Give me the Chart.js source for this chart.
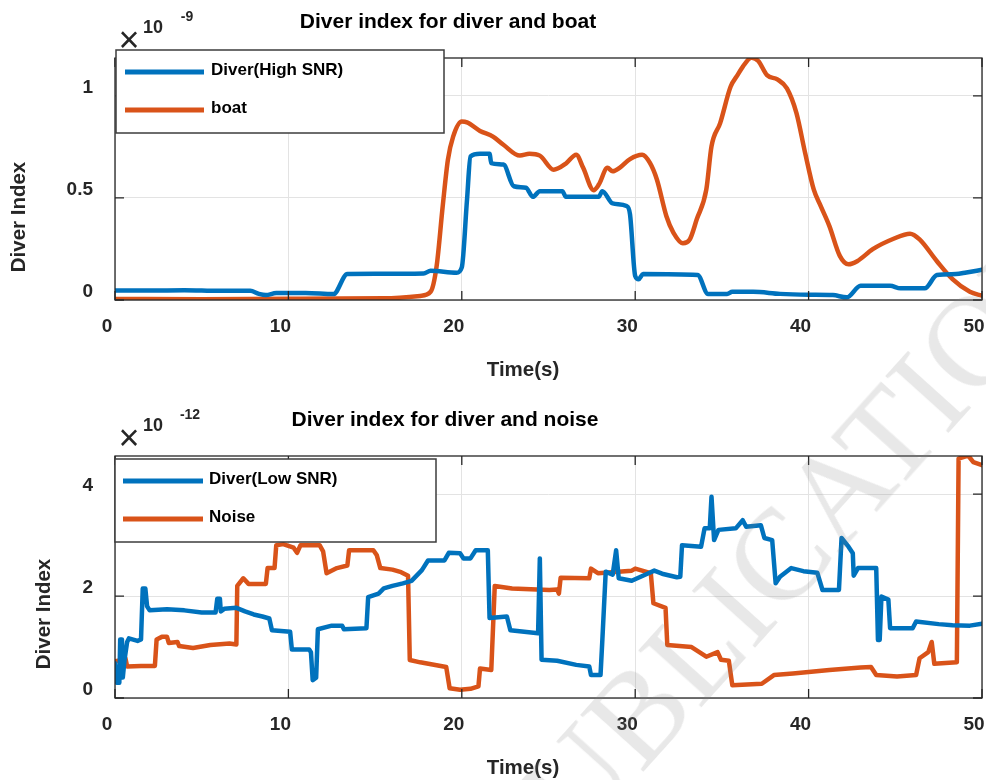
<!DOCTYPE html>
<html lang="en">
<head>
<meta charset="UTF-8">
<title>Diver index</title>
<style>
    body { margin: 0; background: #fff; }
    #page { position: relative; width: 986px; height: 780px; overflow: hidden; }
    .panel { position: absolute; left: 0; width: 986px; height: 390px; }
    #watermark {
        position: absolute; left: 782px; top: 552px;
        transform: translate(-50%, -50%) rotate(-48deg);
        font: 130px "Liberation Serif", serif; line-height: 1;
        color: rgba(128, 128, 128, 0.18); white-space: nowrap;
        pointer-events: none;
    }
</style>
</head>
<body>
<div id="page">
    <div class="panel" style="top:0"><canvas id="boatChart" width="986" height="390"></canvas></div>
    <div class="panel" style="top:390px"><canvas id="noiseChart" width="986" height="390"></canvas></div>
    <div id="watermark">PUBLICATION</div>
</div>

<script src="https://cdn.jsdelivr.net/npm/chart.js@4.4.0/dist/chart.umd.min.js"></script>
<script>
    // axis ticks
    const xTicks = [0, 10, 20, 30, 40, 50];
    const boatYTicks = [0, 0.5, 1];
    const noiseYTicks = [0, 2, 4];

    // top panel (x 1e-9)
    const timeHigh = [0, 2, 4, 6, 7.8, 8.3, 8.7, 9.3, 11, 12.6, 13.4, 15, 17.8, 18.2, 19.7, 20.0, 20.3, 20.5, 21.05, 21.6, 21.7,
        22.4, 23.0, 23.7, 24.1, 24.5, 25.8, 26.0, 27.9, 28.1, 28.7, 29.5, 29.7, 30.0, 30.2, 30.45, 33.6, 34.2, 35.3, 35.6,
        36.8, 38.35, 40, 41.4, 42.2, 43.0, 44.7, 45.3, 46.7, 47.4, 48.5, 49.1, 50];
    const diverHigh = [0.047, 0.046, 0.048, 0.045, 0.045, 0.03, 0.024, 0.034, 0.034, 0.029, 0.127, 0.128, 0.13, 0.143, 0.134, 0.16, 0.49, 0.703, 0.716, 0.716, 0.67,
        0.663, 0.557, 0.55, 0.505, 0.533, 0.533, 0.505, 0.505, 0.533, 0.473, 0.46, 0.42, 0.118, 0.102, 0.127, 0.122, 0.029, 0.029, 0.04,
        0.04, 0.03, 0.026, 0.024, 0.013, 0.07, 0.07, 0.057, 0.057, 0.122, 0.127, 0.135, 0.148];

    const timeBoat = [0, 5, 10, 15.5, 17.6, 18.2, 18.55, 18.9, 19.2, 19.5, 20.0, 20.3, 21.05, 21.8, 22.4, 23.35, 23.9, 24.5, 25.3,
        26.0, 26.6, 27.0, 27.6, 27.9, 28.4, 28.7, 29.1, 29.7, 30.4, 30.85, 31.25, 31.8, 32.2, 32.75, 33.15, 33.55, 34.1, 34.4,
        34.9, 35.5, 35.9, 36.2, 36.7, 37.1, 37.6, 38.2, 38.75, 39.3, 39.8, 40.3, 40.7, 41.2, 41.8, 42.3, 42.8, 43.7, 44.9,
        45.85, 46.4, 47.4, 48.3, 49.3, 50];
    const boat = [0.005, 0.004, 0.006, 0.008, 0.02, 0.04, 0.167, 0.46, 0.687, 0.8, 0.874, 0.87, 0.828, 0.8, 0.76, 0.707, 0.716, 0.707, 0.638,
        0.668, 0.711, 0.647, 0.538, 0.565, 0.647, 0.63, 0.647, 0.69, 0.711, 0.671, 0.59, 0.41, 0.33, 0.278, 0.297, 0.395, 0.54, 0.752,
        0.866, 1.044, 1.101, 1.142, 1.187, 1.17, 1.101, 1.08, 1.036, 0.915, 0.72, 0.54, 0.46, 0.362, 0.216, 0.175, 0.19, 0.249, 0.3,
        0.325, 0.297, 0.19, 0.102, 0.04, 0.021];

    // bottom panel (x 1e-12)
    const timeLow = [0, 0.1, 0.25, 0.3, 0.4, 0.45, 0.55, 0.7, 0.8, 1.3, 1.5, 1.6, 1.75, 1.85, 2.0, 3.0, 4.0, 5.0, 5.8, 5.9, 6.05, 6.1,
        6.3, 7.0, 7.5, 8.0, 8.5, 8.9, 9.05, 10.1, 10.2, 11.2, 11.3, 11.4, 11.6, 11.7, 12.5, 13.1, 13.2, 14.5, 14.6, 15.2, 15.5,
        16.0, 16.6, 17.1, 17.7, 18.05, 19.0, 19.25, 19.9, 20.1, 20.5, 20.8, 21.5, 21.6, 22.6, 22.8, 24.4, 24.5, 24.6, 25.5,
        26.6, 27.35, 27.45, 28.0, 28.1, 28.3, 28.7, 28.9, 29.05, 29.8, 30.7, 31.1, 31.55, 32.4, 32.6, 32.7, 33.8, 34.0, 34.3,
        34.4, 34.55, 34.8, 35.8, 36.2, 36.4, 37.25, 37.45, 37.9, 38.1, 38.35, 39.0, 39.7, 40.5, 40.8, 41.75, 41.9, 42.3, 42.55,
        42.6, 42.85, 43.9, 44.0, 44.1, 44.2, 44.6, 44.7, 46.0, 46.2, 47.5, 48.3, 49.3, 50];
    const diverLow = [0.68, 0.3, 0.3, 1.15, 1.15, 0.4, 0.75, 1.1, 1.17, 1.12, 1.15, 2.15, 2.15, 1.8, 1.72, 1.74, 1.72, 1.68, 1.68, 1.95, 1.95, 1.7,
        1.75, 1.77, 1.7, 1.64, 1.6, 1.56, 1.33, 1.3, 0.95, 0.95, 0.9, 0.35, 0.4, 1.35, 1.42, 1.42, 1.35, 1.37, 1.98, 2.05, 2.15,
        2.2, 2.25, 2.3, 2.51, 2.7, 2.7, 2.85, 2.84, 2.74, 2.74, 2.9, 2.9, 1.57, 1.6, 1.33, 1.27, 2.74, 0.75, 0.73,
        0.65, 0.62, 0.45, 0.45, 1.1, 2.48, 2.42, 2.9, 2.35, 2.3, 2.44, 2.5, 2.44, 2.37, 2.38, 3.0, 2.97, 3.33, 3.33,
        3.95, 3.1, 3.3, 3.33, 3.49, 3.36, 3.39, 3.14, 3.1, 2.25, 2.38, 2.55, 2.49, 2.46, 2.12, 2.12, 3.14, 2.97, 2.84,
        2.4, 2.55, 2.55, 1.14, 1.14, 1.99, 1.93, 1.37, 1.37, 1.5, 1.45, 1.43, 1.42, 1.46];

    const timeNoise = [0, 0.5, 0.6, 0.7, 1.5, 2.3, 2.4, 2.7, 3.0, 3.1, 3.6, 3.7, 4.5, 5.5, 6.6, 7.0, 7.05, 7.4, 7.7, 8.7, 8.8, 9.2, 9.3,
        9.7, 10.3, 10.5, 10.7, 11.8, 12.0, 12.2, 12.8, 13.4, 13.5, 14.9, 15.1, 15.3, 16.0, 16.5, 16.9, 17.0, 17.6, 19.1, 19.3,
        19.9, 20.5, 20.96, 21.05, 21.7, 21.9, 22.9, 25.05, 25.5, 25.6, 25.7, 27.35, 27.45, 27.85, 29.8, 30.0, 30.9, 31.05,
        31.75, 31.85, 33.25, 34.1, 34.75, 34.95, 35.4, 35.6, 37.3, 38.0, 39.1, 41.2, 43.0, 43.6, 43.9, 45.1, 46.2, 46.4,
        46.9, 47.1, 47.25, 48.55, 48.65, 49.2, 49.5, 50];
    const noise = [0.72, 0.75, 0.78, 0.62, 0.63, 0.63, 1.15, 1.2, 1.2, 1.08, 1.1, 1.02, 0.98, 1.04, 1.07, 1.05, 2.2, 2.35, 2.24, 2.24, 2.55, 2.55, 3.0,
        3.02, 2.95, 2.85, 3.0, 3.0, 2.88, 2.45, 2.55, 2.6, 2.9, 2.9, 2.8, 2.55, 2.52, 2.47, 2.4, 0.745, 0.7, 0.61, 0.19,
        0.16, 0.18, 0.23, 0.58, 0.55, 2.2, 2.15, 2.12, 2.13, 2.05, 2.36, 2.35, 2.54, 2.45, 2.5, 2.54, 2.45, 1.86,
        1.77, 1.04, 1.0, 0.81, 0.9, 0.75, 0.73, 0.25, 0.28, 0.45, 0.48, 0.55, 0.6, 0.61, 0.45, 0.42, 0.45, 0.78,
        0.9, 1.1, 0.67, 0.7, 4.7, 4.76, 4.63, 4.57];

    const BLUE = '#0072BD';
    const ORANGE = '#D95319';
    const FONT = '"Liberation Sans", Arial, sans-serif';

    // frame, inward ticks, legend box and the loose MATLAB-style texts
    const decor = {
        id: 'decor',
        afterDraw(chart, args, o) {
            const { ctx, chartArea: a, scales } = chart;
            ctx.save();
            ctx.strokeStyle = '#262626';
            ctx.lineWidth = 1.3;
            ctx.strokeRect(a.left, a.top, a.width, a.height);
            ctx.beginPath();
            scales.x.ticks.forEach(t => {
                const px = scales.x.getPixelForValue(t.value);
                ctx.moveTo(px, a.bottom); ctx.lineTo(px, a.bottom - 9);
                ctx.moveTo(px, a.top); ctx.lineTo(px, a.top + 9);
            });
            scales.y.ticks.forEach(t => {
                const py = scales.y.getPixelForValue(t.value);
                ctx.moveTo(a.left, py); ctx.lineTo(a.left + 9, py);
                ctx.moveTo(a.right, py); ctx.lineTo(a.right - 9, py);
            });
            ctx.stroke();

            // legend
            const L = o.legend;
            ctx.fillStyle = '#fff';
            ctx.fillRect(L.x, L.y, L.w, L.h);
            ctx.strokeStyle = '#3c3c3c';
            ctx.lineWidth = 1.5;
            ctx.strokeRect(L.x, L.y, L.w, L.h);
            ctx.font = 'bold 17px ' + FONT;
            ctx.textBaseline = 'middle';
            ctx.textAlign = 'left';
            chart.data.datasets.forEach((ds, i) => {
                const ly = L.rows[i];
                ctx.strokeStyle = ds.borderColor;
                ctx.lineWidth = 5;
                ctx.beginPath();
                ctx.moveTo(L.lineX[0], ly); ctx.lineTo(L.lineX[1], ly);
                ctx.stroke();
                ctx.fillStyle = '#000';
                ctx.fillText(ds.label, L.textX, ly - 2);
            });

            // title
            ctx.fillStyle = '#000';
            ctx.textAlign = 'center';
            ctx.font = 'bold 21px ' + FONT;
            ctx.fillText(o.title, o.titlePos[0], o.titlePos[1]);

            // axis labels
            ctx.fillStyle = '#262626';
            ctx.font = 'bold 20.5px ' + FONT;
            ctx.fillText('Time(s)', o.xLabelPos[0], o.xLabelPos[1]);
            ctx.save();
            ctx.translate(o.yLabelPos[0], o.yLabelPos[1]);
            ctx.rotate(-Math.PI / 2);
            ctx.fillText('Diver Index', 0, 0);
            ctx.restore();

            // exponent
            const e = o.exp;
            ctx.fillStyle = '#262626';
            ctx.font = '36px ' + FONT;
            ctx.fillText('\u00d7', e.x, e.y);
            ctx.font = 'bold 18px ' + FONT;
            ctx.fillText('10', e.x + 24, e.y - 14);
            ctx.font = 'bold 14px ' + FONT;
            ctx.fillText(e.power, e.x + 58 + (e.power.length - 2) * 3, e.y - 25);
            ctx.restore();
        }
    };

    function makeChart(id, series, yTicks, yMax, xAxisHeight, padTop, deco) {
        const datasets = series.map(s => ({
            label: s.label,
            data: s.t.map((t, i) => ({ x: t, y: s.v[i] })),
            borderColor: s.color,
            borderWidth: 4.5,
            pointRadius: 0,
            tension: s.smooth ? 0.4 : 0,
            cubicInterpolationMode: s.smooth ? 'monotone' : 'default',
            borderJoinStyle: 'round',
            borderCapStyle: 'round'
        }));
        const tickFont = { family: FONT, size: 19, weight: 'bold' };
        return new Chart(document.getElementById(id), {
            type: 'line',
            data: { datasets },
            plugins: [decor],
            options: {
                responsive: false,
                animation: false,
                layout: { padding: { top: padTop, right: 4, left: 0, bottom: 0 } },
                plugins: {
                    legend: { display: false },
                    tooltip: { enabled: false },
                    decor: deco
                },
                scales: {
                    x: {
                        type: 'linear', min: 0, max: 50,
                        afterBuildTicks: s => { s.ticks = xTicks.map(v => ({ value: v })); },
                        afterFit: s => { s.height = xAxisHeight; s.paddingLeft = 0; s.paddingRight = 0; },
                        grid: { color: '#e3e3e3', drawTicks: false },
                        border: { display: false },
                        ticks: { font: tickFont, color: '#262626', padding: 15, labelOffset: -8, maxRotation: 0, callback: v => String(v) }
                    },
                    y: {
                        type: 'linear', min: 0, max: yMax,
                        afterBuildTicks: s => { s.ticks = yTicks.map(v => ({ value: v })); },
                        afterFit: s => { s.width = 115; s.paddingTop = 0; s.paddingBottom = 0; },
                        grid: { color: '#e3e3e3', drawTicks: false },
                        border: { display: false },
                        ticks: { font: tickFont, color: '#262626', padding: 22, labelOffset: -8, callback: v => String(v) }
                    }
                }
            }
        });
    }

    makeChart('boatChart', [
        { label: 'Diver(High SNR)', t: timeHigh, v: diverHigh, color: BLUE, smooth: true },
        { label: 'boat', t: timeBoat, v: boat, color: ORANGE, smooth: true }
    ], boatYTicks, 1.185, 90, 58, {
        title: 'Diver index for diver and boat', titlePos: [448, 22],
        xLabelPos: [523, 370], yLabelPos: [19, 217],
        exp: { x: 129, y: 42, power: '-9' },
        legend: { x: 116, y: 50, w: 328, h: 83, rows: [72, 110], lineX: [125, 204], textX: 211 }
    });

    makeChart('noiseChart', [
        { label: 'Diver(Low SNR)', t: timeLow, v: diverLow, color: BLUE, smooth: false },
        { label: 'Noise', t: timeNoise, v: noise, color: ORANGE, smooth: false }
    ], noiseYTicks, 4.75, 82, 66, {
        title: 'Diver index for diver and noise', titlePos: [445, 30],
        xLabelPos: [523, 378], yLabelPos: [44, 224],
        exp: { x: 129, y: 50, power: '-12' },
        legend: { x: 115, y: 69, w: 321, h: 83, rows: [91, 129], lineX: [123, 203], textX: 209 }
    });
</script>
</body>
</html>
